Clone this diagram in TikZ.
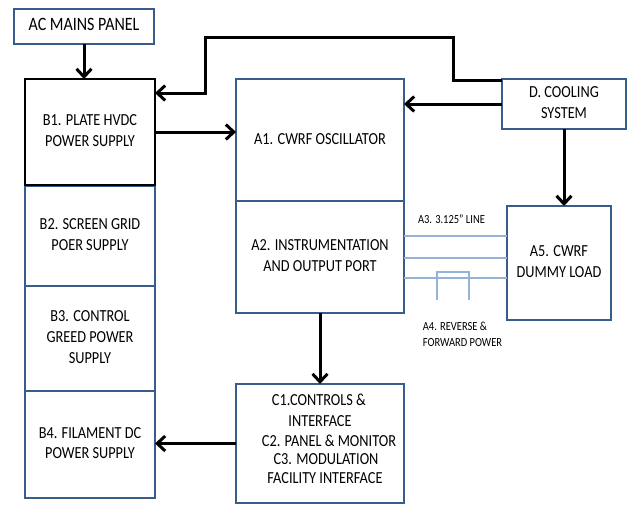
\documentclass[tikz,border=0pt]{standalone}
\usepackage{fontspec}
\setmainfont{Carlito}
\usepackage{graphicx}
\usetikzlibrary{arrows.meta,calc}
\definecolor{boxblue}{RGB}{56,93,138}
\definecolor{lineblue}{RGB}{149,179,215}
\newcommand\bx[2][14.3]{\scalebox{1}[1.18]{\fontsize{#1}{17.5}\selectfont\begin{tabular}{@{}c@{}}#2\end{tabular}}}
\newcommand\bxl[2][10.5]{\scalebox{1}[1.18]{\fontsize{#1}{13.6}\selectfont\begin{tabular}{@{}l@{}}#2\end{tabular}}}
\begin{document}
\begin{tikzpicture}[x=1pt,y=-1pt,
  every node/.style={inner sep=0pt, outer sep=0pt},
  box/.style={draw=boxblue, line width=1.8pt, anchor=north west, fill=white},
  arr/.style={line width=3pt, -{Straight Barb[length=8pt,width=15pt]}},
  a3line/.style={draw=lineblue, line width=1.4pt}]
\fill[white] (0,0) rectangle (629,504);
\useasboundingbox (0,0) rectangle (629,504);

% boxes
\node[box, minimum width=140pt, minimum height=35pt] (ac) at (14,9) {\bx[16]{AC MAINS PANEL}};
\node[box, minimum width=130pt, minimum height=100pt] (b2) at (25,186) {\bx{B2. SCREEN GRID\\POER SUPPLY}};
\node[box, minimum width=130pt, minimum height=105pt] (b3) at (25,286) {\bx{B3. CONTROL\\GREED POWER\\SUPPLY}};
\node[box, minimum width=130pt, minimum height=107pt] (b4) at (25,391) {\bx{B4. FILAMENT DC\\POWER SUPPLY}};
\node[box, draw=black, minimum width=130pt, minimum height=106pt] (b1) at (25,79) {\bx{B1. PLATE HVDC\\POWER SUPPLY}};
\node[box, minimum width=168pt, minimum height=122pt] (a1) at (236,79) {\bx{A1. CWRF OSCILLATOR}};
\node[box, minimum width=168pt, minimum height=112pt] (a2) at (236,201) {\bx{A2. INSTRUMENTATION\\AND OUTPUT PORT}};
\node[box, minimum width=168pt, minimum height=119pt] (c) at (236,384) {};
\node[box, minimum width=124pt, minimum height=50pt] (d) at (502,79) {\bx{D. COOLING\\SYSTEM}};
\node[box, minimum width=104pt, minimum height=114pt] (a5) at (507,206) {\bx{A5. CWRF\\DUMMY LOAD}};

% texts of the C box
\node (c1) at (319,401) {\bx{C1.CONTROLS \&}};
\node (c1b) at (320,422) {\bx{INTERFACE}};
\node (c2) at (329,442) {\bx{C2. PANEL \& MONITOR}};
\node (c3) at (326,460) {\bx{C3. MODULATION}};
\node (c3b) at (325,479) {\bx{FACILITY INTERFACE}};

% A3 line and A4 coupler
\draw[a3line] ($(a2.north east)+(0,35)$) -- ($(a5.north west)+(0,30)$);
\draw[a3line] ($(a2.north east)+(0,57)$) -- ($(a5.north west)+(0,52)$);
\draw[a3line] ($(a2.north east)+(0,77)$) -- ($(a5.north west)+(0,72)$);
\draw[a3line] (437,300) |- (469,272) -- (469,300);
\node (a3lbl) at (451.5,219) {\bx[10.5]{A3. 3.125” LINE}};
\node (a4lbl) at (462.5,335) {\bxl{A4. REVERSE \&\\FORWARD POWER}};

% arrows
\draw[arr] (ac.south) -- (ac.south |- b1.north);
\draw[arr] (b1.east) -- (b1.east -| a1.west);
\draw[arr] (d.west) -- (d.west -| a1.east);
\draw[arr] (d.south) -- (d.south |- a5.north);
\draw[arr] (a2.south) -- (a2.south |- c.north);
\draw[arr] (c.west) -- (c.west -| b4.east);
\draw[arr] ([yshift=-1.5pt]d.north west) -- ++(-49,0) |- (205,37) |- ([yshift=-14pt]b1.north east);
\end{tikzpicture}
\end{document}
